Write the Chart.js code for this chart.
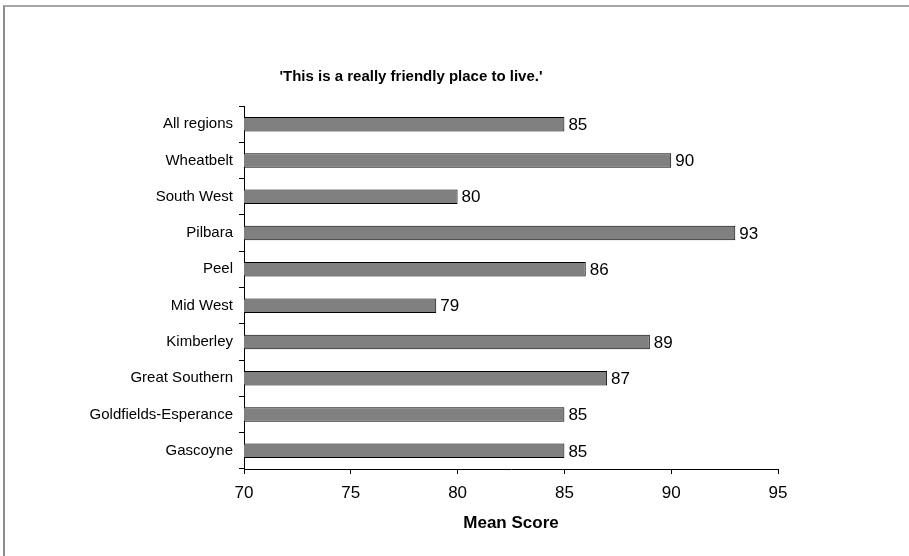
<!DOCTYPE html>
<html>
<head>
<meta charset="utf-8">
<script src="https://cdn.jsdelivr.net/npm/chart.js@4/dist/chart.umd.min.js"></script>
<style>
  html, body { margin: 0; padding: 0; background: #fff; }
  #wrap { position: relative; width: 909px; height: 556px; overflow: hidden; }
  #frame { position: absolute; left: 3px; top: 5px; right: -10px; bottom: -10px;
           border-top: 2px solid #a6a6a6; border-left: 2px solid #8c8c8c; pointer-events: none; }
</style>
</head>
<body>
<div id="wrap">
  <canvas id="myChart" width="909" height="556"></canvas>
  <div id="frame"></div>
</div>
<script>
const regions = ['All regions', 'Wheatbelt', 'South West', 'Pilbara', 'Peel', 'Mid West',
  'Kimberley', 'Great Southern', 'Goldfields-Esperance', 'Gascoyne'];
const meanScores = [85, 90, 80, 93, 86, 79, 89, 87, 85, 85];
const chartTitle = "'This is a really friendly place to live.'";
const axisTitle = 'Mean Score';

const FONT = "'Liberation Sans', Arial, sans-serif";

// title text sits left of the plot centre
const titleText = {
  id: 'titleText',
  afterDraw(chart) {
    const c = chart.ctx;
    c.save();
    c.font = 'bold 15px ' + FONT;
    c.fillStyle = '#000';
    c.textAlign = 'center';
    c.textBaseline = 'middle';
    c.fillText(chartTitle, 411, 77);
    c.restore();
  }
};

// value printed just past the end of each bar
const valueLabels = {
  id: 'valueLabels',
  afterDatasetsDraw(chart) {
    const c = chart.ctx;
    const meta = chart.getDatasetMeta(0);
    c.save();
    c.font = '17px ' + FONT;
    c.fillStyle = '#000';
    c.textAlign = 'left';
    c.textBaseline = 'middle';
    meta.data.forEach((bar, i) => {
      c.fillText(meanScores[i], bar.x + 4, bar.y + 1);
    });
    c.restore();
  }
};

new Chart(document.querySelector('#myChart'), {
  type: 'bar',
  data: {
    labels: regions,
    datasets: [{
      data: meanScores,
      backgroundColor: '#808080',
      borderColor: '#000',
      borderWidth: 1,
      borderSkipped: false,
      categoryPercentage: 1,
      barPercentage: 0.4
    }]
  },
  plugins: [titleText, valueLabels],
  options: {
    indexAxis: 'y',
    responsive: false,
    animation: false,
    layout: { padding: { top: 106, right: 131, left: 0, bottom: 18 } },
    plugins: {
      legend: { display: false },
      tooltip: { enabled: false }
    },
    scales: {
      x: {
        min: 70,
        max: 95,
        afterFit(scale) { scale.height = 69; },
        ticks: { stepSize: 5, color: '#000', font: { family: FONT, size: 17 }, padding: 9 },
        grid: { drawOnChartArea: false, drawTicks: true, tickLength: 5, color: '#000' },
        border: { display: true, color: '#000', width: 1 },
        title: { display: true, text: axisTitle, color: '#000',
                 font: { family: FONT, size: 17, weight: 'bold' }, padding: { top: 4, bottom: 4 } }
      },
      y: {
        afterFit(scale) { scale.width = 244; },
        ticks: { color: '#000', font: { family: FONT, size: 15 }, padding: 6 },
        grid: { drawOnChartArea: false, drawTicks: true, tickLength: 5, color: '#000', offset: true },
        border: { display: true, color: '#000', width: 1 }
      }
    }
  }
});
</script>
</body>
</html>
